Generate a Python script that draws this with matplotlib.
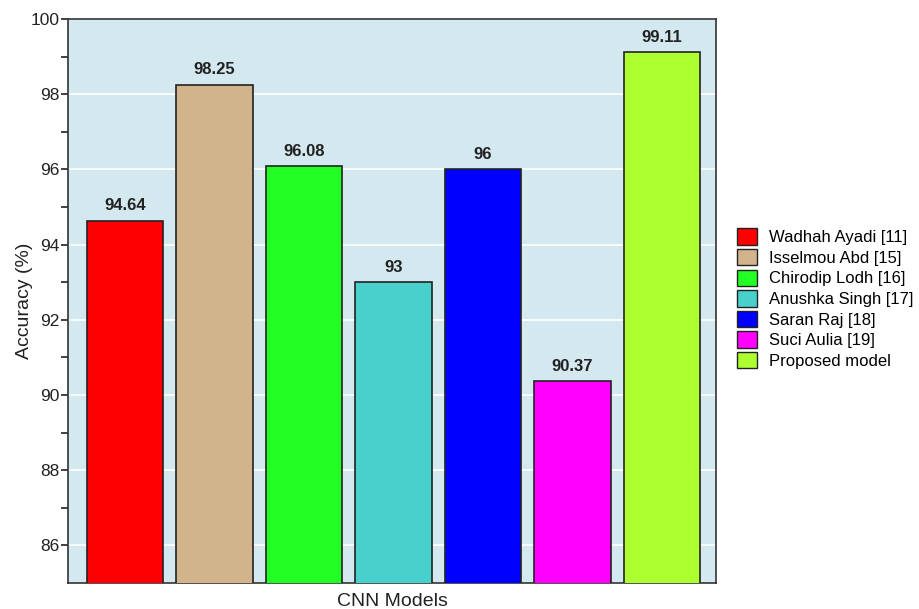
import matplotlib.pyplot as plt
from matplotlib.patches import Patch

plt.rcParams['font.family'] = ['Liberation Sans', 'DejaVu Sans']

models = ['Wadhah Ayadi [11]', 'Isselmou Abd [15]', 'Chirodip Lodh [16]',
          'Anushka Singh [17]', 'Saran Raj [18]', 'Suci Aulia [19]', 'Proposed model']
accuracy = [94.64, 98.25, 96.08, 93, 96, 90.37, 99.11]
value_labels = ['94.64', '98.25', '96.08', '93', '96', '90.37', '99.11']
colors = ['#ff0000', '#d2b48c', '#22ff22', '#48d1cc', '#0000ff', '#ff00ff', '#adff2f']

fig = plt.figure(figsize=(9.19, 6.09), dpi=100)
ax = fig.add_axes([0.0745, 0.0427, 0.7045, 0.9261])
ax.set_facecolor('#d3e8ef')

x = list(range(len(models)))
bars = ax.bar(x, accuracy, width=0.853, bottom=0, color=colors,
              edgecolor='#222222', linewidth=1.2, zorder=3)
for xi, v, lab in zip(x, accuracy, value_labels):
    ax.text(xi, v + 0.2, lab, ha='center', va='bottom',
            fontsize=12, fontweight='bold', color='#222222', zorder=4)

ax.set_ylim(85, 100)
ax.set_xlim(-0.63, 6.6)
ax.set_yticks(range(86, 101, 2))
ax.set_yticks(range(87, 100, 2), minor=True)
ax.set_xticks([])
ax.tick_params(axis='y', which='both', direction='out', length=5, width=1.2,
               labelsize=12.5, colors='#222222', pad=1.5)
ax.yaxis.grid(True, which='major', color='white', linewidth=1.2, zorder=1)
ax.set_axisbelow(True)
for side in ax.spines.values():
    side.set_color('#333333')
    side.set_linewidth(1.2)

ax.set_xlabel('CNN Models', fontsize=14, color='#222222', labelpad=7)
ax.set_ylabel('Accuracy (%)', fontsize=14, color='#222222', labelpad=-2)

handles = [Patch(facecolor=c, edgecolor='#222222', linewidth=1.0) for c in colors]
fig.legend(handles, models, loc='upper left', bbox_to_anchor=(0.795, 0.636),
           frameon=False, fontsize=12, handlelength=1.2, handleheight=1.15,
           handletextpad=0.7, labelspacing=0.22, borderaxespad=0)

fig.savefig('out.png', dpi=100)
